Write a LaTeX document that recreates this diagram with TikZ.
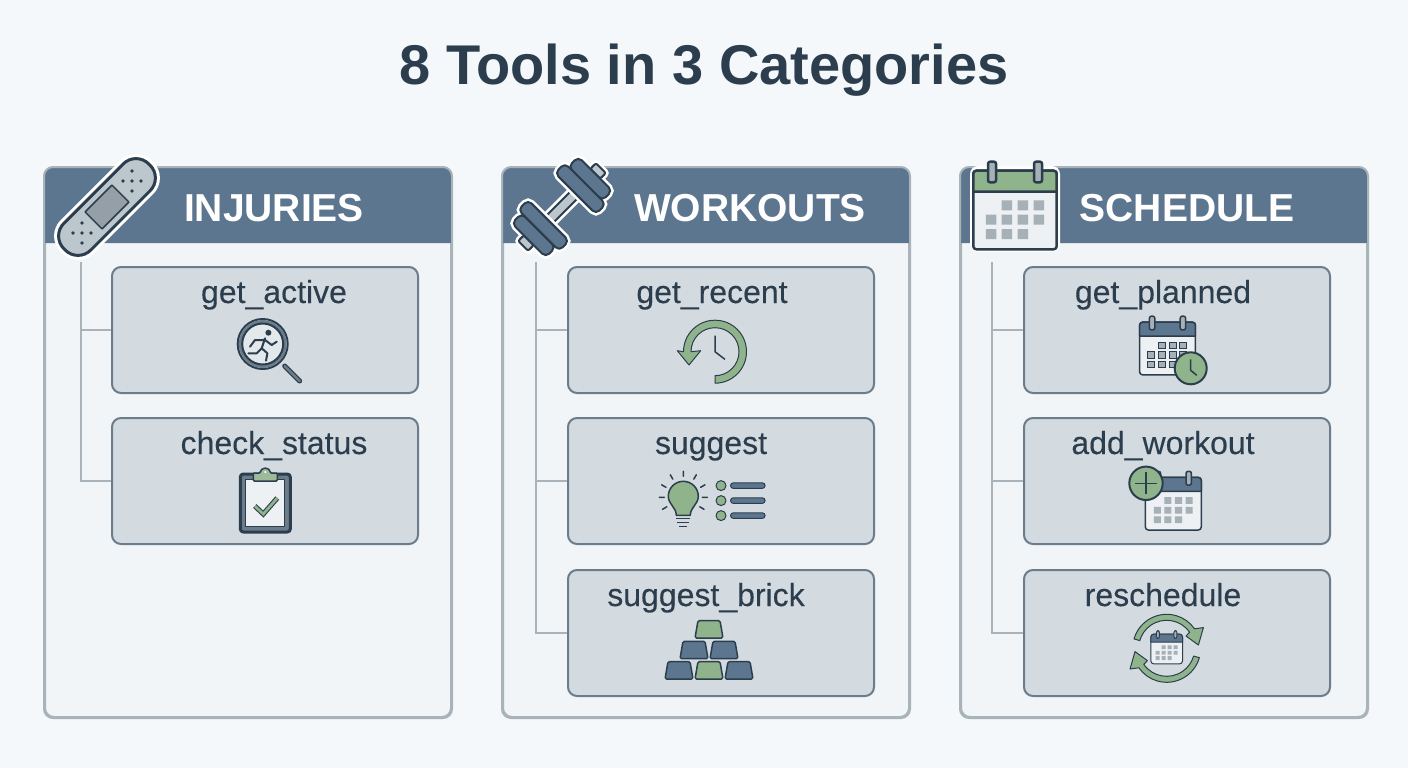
\documentclass[tikz,border=0pt]{standalone}
\usepackage{fontspec}
\setmainfont{Liberation Sans}
\newfontfamily\labelfont[FakeBold=0.25]{Liberation Sans}
\usepackage{tikz}
\usepackage{xcolor}
\usetikzlibrary{positioning, calc}
\definecolor{pagefill}{HTML}{F4F8FA}
\definecolor{panelfill}{HTML}{F1F5F7}
\definecolor{paneledge}{HTML}{A8B3BA}
\definecolor{headblue}{HTML}{5D7690}
\definecolor{toolfill}{HTML}{D3DBE0}
\definecolor{tooledge}{HTML}{6B7C8A}
\definecolor{ink}{HTML}{2C3E4E}
\definecolor{sage}{HTML}{8FB38A}
\definecolor{steel}{HTML}{BCC6CD}
\definecolor{cellgrey}{HTML}{A6B0B7}
\definecolor{calwhite}{HTML}{EEF1F3}
\tikzset{x=1pt, y=-1pt,
panel/.style={draw=paneledge, line width=2pt, fill=panelfill, rounded corners=9pt, inner sep=0pt, minimum width=406pt, minimum height=549pt},
panelline/.style={draw=paneledge, line width=2pt, rounded corners=9pt},
headtitle/.style={text=white, font=\bfseries\fontsize{39}{44}\selectfont, anchor=base},
toolbox/.style={draw=tooledge, line width=2pt, fill=toolfill, rounded corners=9pt, inner sep=0pt, minimum width=306pt, minimum height=126pt},
toollabel/.style={text=ink, font=\labelfont\fontsize{32}{36}\selectfont, anchor=base},
branch/.style={draw=paneledge, line width=2pt},
icon/.style={draw=ink, line width=2pt, line join=round},
thinicon/.style={draw=ink, line width=1pt, line join=round},
pics/calicon/.style n args={3}{code={
  \draw[icon, line width=#3, fill=calwhite, rounded corners=3pt] (-41.7,-39.3) rectangle (41.7,39.3);
  \draw[icon, line width=#3, fill=#1] (-41.7,-18.3) [rounded corners=3pt] -- (-41.7,-39.3) -- (41.7,-39.3) [sharp corners] -- (41.7,-18.3) -- cycle;
  \draw[icon, line width=#3, fill=cellgrey, rounded corners=2pt] (-27,-48.3) rectangle (-19,-27.7) (19,-48.3) rectangle (27,-27.7);
  \path[#2] (-13.5,-9.7) rectangle +(10.5,10) (2.5,-9.7) rectangle +(10.5,10) (18.5,-9.7) rectangle +(10.5,10)
    (-29.2,4.7) rectangle +(10.5,10) (-13.5,4.7) rectangle +(10.5,10) (2.5,4.7) rectangle +(10.5,10) (18.5,4.7) rectangle +(10.5,10)
    (-29.2,19) rectangle +(10.5,10) (-13.5,19) rectangle +(10.5,10) (2.5,19) rectangle +(10.5,10);
}},
pics/clockface/.style={code={
  \draw[icon, fill=sage] (0,0) circle (16);
  \draw[icon, line width=1.5pt] (0,-9) -- (0,2) -- (6,7);
}},
pics/goldbar/.style={code={
  \draw[icon, line width=1.5pt, fill=#1, rounded corners=1.5pt] (-14,8.7) -- (-11,-8.7) -- (11,-8.7) -- (14,8.7) -- cycle;
}},
pics/swaparrow/.style={code={
  \draw[thinicon, fill=sage] (196:34) arc (196:325:34) -- (36.7,-20.7) -- (31.7,-3.3) -- (19.3,-12.3) -- (325:28) arc (325:196:28) -- cycle;
}},
pics/plate/.style={code={
  \draw[white, line width=7pt, rounded corners=5pt] (19,-29) rectangle (33,29);
  \draw[white, line width=7pt, rounded corners=5pt] (33,-24) rectangle (47,24);
  \draw[white, line width=7pt, rounded corners=2pt] (47,-7) rectangle (55,7);
  \draw[icon, fill=steel, rounded corners=2pt] (47,-7) rectangle (55,7);
  \draw[icon, fill=headblue, rounded corners=5pt] (33,-24) rectangle (47,24);
  \draw[icon, fill=headblue, rounded corners=5pt] (19,-29) rectangle (33,29);
}}
}

\begin{document}
\begin{tikzpicture}
\useasboundingbox (0,0) rectangle (1408,768);
\fill[pagefill] (0,0) rectangle (1408,768);
\node[text=ink, font=\bfseries\fontsize{56}{60}\selectfont] (title) at (704,70) {8 Tools in 3 Categories};

% the three panels
\node[panel] (injuries) at (248,442.5) {};
\node[panel, right=50pt of injuries] (workouts) {};
\node[panel, right=50pt of workouts] (schedule) {};
\fill[headblue] ([yshift=-76pt]injuries.north west) [rounded corners=9pt] -- (injuries.north west) -- (injuries.north east) [sharp corners] -- ([yshift=-76pt]injuries.north east) -- cycle;
\fill[headblue] ([yshift=-76pt]workouts.north west) [rounded corners=9pt] -- (workouts.north west) -- (workouts.north east) [sharp corners] -- ([yshift=-76pt]workouts.north east) -- cycle;
\fill[headblue] ([yshift=-76pt]schedule.north west) [rounded corners=9pt] -- (schedule.north west) -- (schedule.north east) [sharp corners] -- ([yshift=-76pt]schedule.north east) -- cycle;
\draw[panelline] (injuries.south west) rectangle (injuries.north east);
\draw[panelline] (workouts.south west) rectangle (workouts.north east);
\draw[panelline] (schedule.south west) rectangle (schedule.north east);
\node[headtitle] (injuriestitle) at (274,221.5) {INJURIES};
\node[headtitle] (workoutstitle) at (750,221.5) {WORKOUTS};
\node[headtitle] (scheduletitle) at (1187,221.5) {SCHEDULE};

% tool boxes
\node[toolbox] (getactive) at (265,330) {};
\node[toolbox, below=23pt of getactive] (checkstatus) {};
\node[toolbox] (getrecent) at (721,330) {};
\node[toolbox, below=23pt of getrecent] (suggest) {};
\node[toolbox, below=24pt of suggest] (suggestbrick) {};
\node[toolbox] (getplanned) at (1177,330) {};
\node[toolbox, below=23pt of getplanned] (addworkout) {};
\node[toolbox, below=24pt of addworkout] (reschedule) {};
\node[toollabel] (getactivelabel) at ([xshift=9pt,yshift=-37pt]getactive.north) {get\_active};
\node[toollabel] (checkstatuslabel) at ([xshift=9pt,yshift=-37pt]checkstatus.north) {check\_status};
\node[toollabel] (getrecentlabel) at ([xshift=-9pt,yshift=-37pt]getrecent.north) {get\_recent};
\node[toollabel] (suggestlabel) at ([xshift=-10pt,yshift=-37pt]suggest.north) {suggest};
\node[toollabel] (suggestbricklabel) at ([xshift=-15pt,yshift=-37pt]suggestbrick.north) {suggest\_brick};
\node[toollabel] (getplannedlabel) at ([xshift=-14pt,yshift=-37pt]getplanned.north) {get\_planned};
\node[toollabel] (addworkoutlabel) at ([xshift=-14pt,yshift=-37pt]addworkout.north) {add\_workout};
\node[toollabel] (reschedulelabel) at ([xshift=-14pt,yshift=-37pt]reschedule.north) {reschedule};

% connectors
\coordinate (injuriestrunk) at (80.5,262);
\coordinate (workoutstrunk) at (536,262);
\coordinate (scheduletrunk) at (992,262);
\draw[branch] (injuriestrunk) |- (getactive.west);
\draw[branch] (injuriestrunk) |- (checkstatus.west);
\draw[branch] (workoutstrunk) |- (getrecent.west);
\draw[branch] (workoutstrunk) |- (suggest.west);
\draw[branch] (workoutstrunk) |- (suggestbrick.west);
\draw[branch] (scheduletrunk) |- (getplanned.west);
\draw[branch] (scheduletrunk) |- (addworkout.west);
\draw[branch] (scheduletrunk) |- (reschedule.west);

% bandage
\begin{scope}[shift={(107,207)}]
  \draw[white, line width=9pt, rotate=45, rounded corners=18pt] (-60,-19) rectangle (60,19);
  \draw[icon, line width=3pt, fill=steel, rotate=45, rounded corners=18pt] (-60,-19) rectangle (60,19);
  \draw[icon, line width=1.5pt, fill=cellgrey!85!ink, rotate=45] (-19,-12) rectangle (19,12);
  \fill[ink] (25,-36) circle (1.8) (16,-26) circle (1.8) (25,-26) circle (1.8) (34,-26) circle (1.8) (25,-16) circle (1.8);
  \fill[ink] (-25,16) circle (1.8) (-34,26) circle (1.8) (-25,26) circle (1.8) (-16,26) circle (1.8) (-25,36) circle (1.8);
\end{scope}

% dumbbell
\begin{scope}[shift={(562,207)}]
  \draw[white, line width=7pt, rotate=45] (-20,-5) rectangle (20,5);
  \draw[icon, fill=steel, rotate=45] (-20,-5) rectangle (20,5);
  \pic[rotate=45] {plate};
  \pic[rotate=225] {plate};
\end{scope}

% big calendar
\fill[white, rounded corners=8pt] (970,166) rectangle (1060,252);
\pic at (1015,210) {calicon={sage}{fill=cellgrey}{2.5pt}};

% get_active
\begin{scope}[shift={(262.7,344)}]
  \draw[icon, line width=5pt, line cap=round, draw=ink] (22,22) -- (37,37);
  \draw[line width=2.5pt, line cap=round, draw=tooledge] (22,22) -- (37,37);
  \draw[icon, fill=calwhite!60!toolfill] (0,0) circle (25);
  \draw[draw=tooledge, line width=3pt] (0,0) circle (22.5);
  \draw[icon] (0,0) circle (20.5);
  \fill[ink] (5.7,-11.3) circle (3);
  \draw[icon, line cap=round] (2.3,-5.7) -- (-1,4.3) (0.7,-4) -- (-7.7,-4) -- (-12.7,2.7) (2.3,-4) -- (9,1) -- (14,-2.3) (-1,4.3) -- (4.7,9.3) -- (3.3,16.7) (-1,4.3) -- (-6,9.3) -- (-14.3,9.3);
\end{scope}

% check_status
\begin{scope}[shift={(265.3,503)}]
  \draw[icon, line width=3pt, fill=tooledge, rounded corners=3pt] (-25,-29) rectangle (25,29);
  \draw[icon, line width=1pt, fill=calwhite] (-19.5,-24) rectangle (19.5,23);
  \draw[icon, line width=1.5pt, fill=sage!80!toolfill, rounded corners=1pt] (-12,-22) -- (-12,-30) -- (-5,-30) arc (180:360:5) -- (12,-30) -- (12,-22) -- cycle;
  \fill[white] (0,-31) circle (1.2);
  \draw[ink, line width=5pt, line join=miter] (-10.5,3) -- (-2,11) -- (12,-5);
  \draw[sage, line width=2.8pt, line join=miter] (-10.5,3) -- (-2,11) -- (12,-5);
\end{scope}

% get_recent
\begin{scope}[shift={(715,351.7)}]
  \draw[thinicon, fill=sage] (0,31.5) arc (90:-180:31.5) -- (-37.7,-1) -- (-26,13.3) -- (-14.3,-1) -- (-24,0) arc (-180:90:24) -- cycle;
  \draw[icon, line width=1.5pt] (0,-16) -- (0,0) -- (10,7.7);
\end{scope}

% suggest
\begin{scope}[shift={(683.3,497.3)}]
  \draw[icon, line width=1.5pt, fill=sage] (-7,18) .. controls (-7,10) and (-15,7) .. (-15,-1) arc (180:360:15) .. controls (15,7) and (7,10) .. (7,18) -- cycle;
  \draw[icon, line width=1.5pt] (-7,21) -- (7,21) (-6,25) -- (6,25) (-4,29) -- (4,29);
  \draw[icon, line width=1.5pt, line cap=round] (-90:21) -- (-90:26) (-60:21) -- (-60:26) (-120:21) -- (-120:26) (-30:20) -- (-30:25) (-150:20) -- (-150:25) (0:19) -- (0:24) (180:19) -- (180:24) (30:19) -- (30:24) (150:19) -- (150:24);
  \draw[thinicon, fill=sage] (37.7,-11.7) circle (5) (37.7,3.3) circle (5) (37.7,18.3) circle (5);
  \draw[thinicon, fill=headblue, rounded corners=2.5pt] (47.3,-14.4) rectangle (81.7,-9) (47.3,0.6) rectangle (81.7,6) (47.3,15.6) rectangle (81.7,21);
\end{scope}

% suggest_brick
\begin{scope}[shift={(709,650)}]
  \pic at (0,-20.7) {goldbar=sage};
  \pic at (-15,0) {goldbar=headblue};
  \pic at (15,0) {goldbar=headblue};
  \pic at (-30,20.3) {goldbar=headblue};
  \pic at (0,20.3) {goldbar=sage};
  \pic at (30,20.3) {goldbar=headblue};
\end{scope}

% get_planned
\pic[scale=.67] at (1167.5,348.5) {calicon={headblue}{draw=ink, line width=1pt, fill=cellgrey}{1.5pt}};
\pic at (1190.7,368.3) {clockface};

% add_workout
\pic[scale=.67] at (1173.3,503.7) {calicon={headblue}{fill=cellgrey}{1.5pt}};
\draw[icon, fill=sage] (1146,483.3) circle (16.7);
\draw[icon, line width=1.2pt] (1135,483.3) -- (1157,483.3) (1146,472.3) -- (1146,494.3);

% reschedule
\pic[scale=.38] at (1166.7,649) {calicon={headblue}{fill=cellgrey}{1pt}};
\pic at (1166.7,648.3) {swaparrow};
\pic[rotate=180] at (1166.7,648.3) {swaparrow};
\end{tikzpicture}
\end{document}
